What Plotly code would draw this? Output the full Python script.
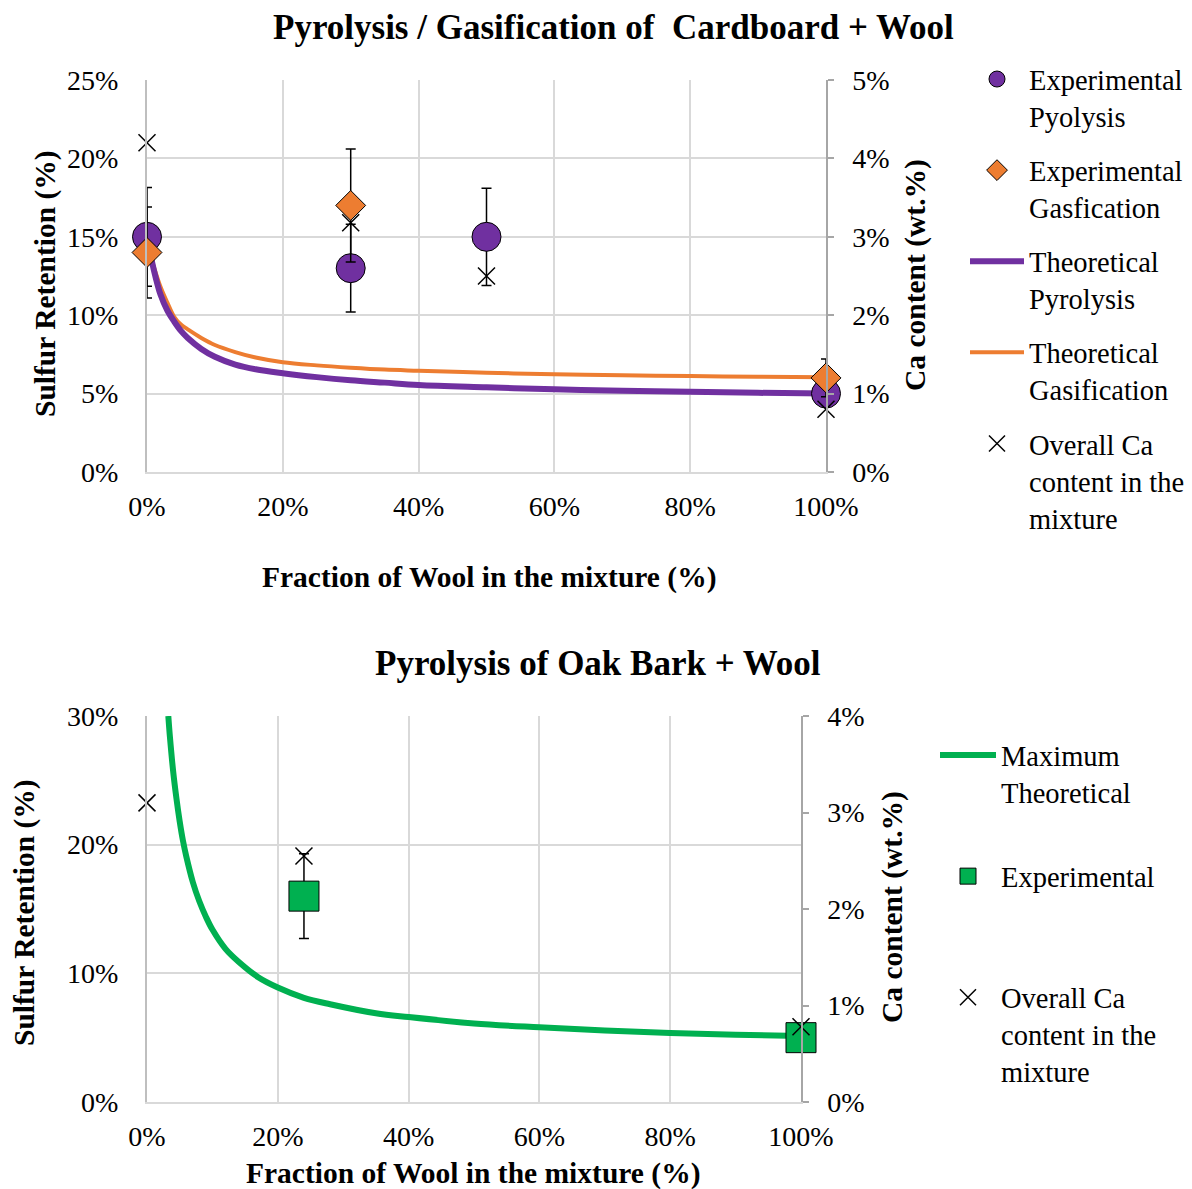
import plotly.graph_objects as go
from plotly.subplots import make_subplots

# The page body adds an 8px margin; the figure is sized/offset to compensate.
OX, OY = 8, 8
W, H = 1192 - OX, 1189 - OY

# ---------------- Data: Cardboard + Wool ----------------
cw_exp_x = [0, 30, 50, 100]
cw_exp_pyro = [15.0, 13.0, 15.0, 5.0]
cw_exp_pyro_err = [3.15, 2.8, 3.1, 0.0]
cw_exp_gas_x = [0, 30, 100]
cw_exp_gas = [14.0, 17.0, 6.0]
cw_exp_gas_err = [2.9, 3.6, 1.2]

cw_theo_x = [0, 1, 2, 3, 4, 5, 6, 8, 10, 13, 16, 20, 25, 30, 35, 40, 50, 60, 70, 80, 90, 100]
cw_theo_pyro = [15.0, 12.9, 11.3, 10.3, 9.6, 9.0, 8.55, 7.85, 7.35, 6.85, 6.55, 6.3, 6.05,
                5.85, 5.7, 5.55, 5.4, 5.27, 5.18, 5.12, 5.05, 5.0]
cw_theo_gas = [14.5, 13.1, 11.8, 10.8, 9.9, 9.4, 9.1, 8.55, 8.1, 7.65, 7.3, 7.0, 6.8,
               6.65, 6.53, 6.46, 6.33, 6.23, 6.17, 6.12, 6.07, 6.04]

cw_ca_x = [0, 30, 50, 100]
cw_ca = [4.2, 3.18, 2.5, 0.8]

# ---------------- Data: Oak Bark + Wool ----------------
ob_theo_x = [3.26, 3.5, 4, 4.5, 5, 5.5, 6, 7, 8, 9, 10, 12, 14, 17, 20, 24, 28, 35, 40,
             50, 60, 70, 80, 90, 100]
ob_theo = [30.0, 28.4, 25.7, 23.6, 21.8, 20.3, 19.1, 17.1, 15.6, 14.4, 13.4, 11.9, 10.9,
           9.7, 8.9, 8.1, 7.6, 6.9, 6.6, 6.1, 5.8, 5.55, 5.37, 5.23, 5.12]
ob_exp_x = [24, 100]
ob_exp = [16.0, 5.0]
ob_exp_err = [3.3, 0.0]
ob_ca_x = [0, 24, 100]
ob_ca = [3.1, 2.55, 0.78]

# tick values / labels
x_ticks = [0, 20, 40, 60, 80, 100]
x_labels = ["0%", "20%", "40%", "60%", "80%", "100%"]
cw_left_ticks = [0, 5, 10, 15, 20, 25]
cw_left_labels = ["0%", "5%", "10%", "15%", "20%", "25%"]
cw_right_ticks = [0, 1, 2, 3, 4, 5]
cw_right_labels = ["0%", "1%", "2%", "3%", "4%", "5%"]
ob_left_ticks = [0, 10, 20, 30]
ob_left_labels = ["0%", "10%", "20%", "30%"]
ob_right_ticks = [0, 1, 2, 3, 4]
ob_right_labels = ["0%", "1%", "2%", "3%", "4%"]

PURPLE = "#7030A0"
ORANGE = "#ED7D31"
GREEN = "#00B050"
FONT = "Liberation Serif, Times New Roman, serif"

fig = make_subplots(rows=2, cols=1, specs=[[{"secondary_y": True}], [{"secondary_y": True}]])

# ----- top chart -----
fig.add_trace(go.Scatter(
    x=cw_theo_x, y=cw_theo_gas, mode="lines", line=dict(color=ORANGE, width=4, shape="spline"),
    name="Theoretical<br>Gasification", legend="legend", legendrank=4, legendgroup="g4"),
    row=1, col=1, secondary_y=False)
fig.add_trace(go.Scatter(
    x=cw_theo_x, y=cw_theo_pyro, mode="lines", line=dict(color=PURPLE, width=6, shape="spline"),
    name="Theoretical<br>Pyrolysis", legend="legend", legendrank=3, legendgroup="g3"),
    row=1, col=1, secondary_y=False)
fig.add_trace(go.Scatter(
    x=cw_exp_x, y=cw_exp_pyro, mode="markers", cliponaxis=False,
    marker=dict(symbol="circle", size=29, color=PURPLE, line=dict(color="black", width=1)),
    error_y=dict(type="data", array=cw_exp_pyro_err, visible=True, color="black", thickness=1.5, width=5),
    name="Experimental<br>Pyolysis", legend="legend", legendrank=1, legendgroup="g1"),
    row=1, col=1, secondary_y=False)
fig.add_trace(go.Scatter(
    x=cw_exp_gas_x, y=cw_exp_gas, mode="markers", cliponaxis=False,
    marker=dict(symbol="diamond", size=23, color=ORANGE, line=dict(color="black", width=1)),
    error_y=dict(type="data", array=cw_exp_gas_err, visible=True, color="black", thickness=1.5, width=5),
    name="Experimental<br>Gasfication", legend="legend", legendrank=2, legendgroup="g2"),
    row=1, col=1, secondary_y=False)
fig.add_trace(go.Scatter(
    x=cw_ca_x, y=cw_ca, mode="markers", cliponaxis=False,
    marker=dict(symbol="x-thin-open", size=17, color="black", line=dict(color="black", width=1.5)),
    name="Overall Ca<br>content in the<br>mixture", legend="legend", legendrank=5, legendgroup="g5"),
    row=1, col=1, secondary_y=True)

# ----- bottom chart -----
fig.add_trace(go.Scatter(
    x=ob_theo_x, y=ob_theo, mode="lines", line=dict(color=GREEN, width=6, shape="spline"),
    name="Maximum<br>Theoretical", legend="legend2", legendrank=1, legendgroup="h1"),
    row=2, col=1, secondary_y=False)
fig.add_trace(go.Scatter(
    x=ob_exp_x, y=ob_exp, mode="markers", cliponaxis=False,
    marker=dict(symbol="square", size=30, color=GREEN, line=dict(color="black", width=1)),
    error_y=dict(type="data", array=ob_exp_err, visible=True, color="black", thickness=1.5, width=5),
    name="Experimental<br>&nbsp;", legend="legend2", legendrank=2, legendgroup="h2"),
    row=2, col=1, secondary_y=False)
fig.add_trace(go.Scatter(
    x=ob_ca_x, y=ob_ca, mode="markers", cliponaxis=False,
    marker=dict(symbol="x-thin-open", size=17, color="black", line=dict(color="black", width=1.5)),
    name="Overall Ca<br>content in the<br>mixture", legend="legend2", legendrank=3, legendgroup="h3"),
    row=2, col=1, secondary_y=True)

# ----- pixel helpers (reference screen pixels -> paper fractions) -----
def px_x(p):
    return (p - OX) / W

def px_y(p):
    return 1 - (p - OY) / H

tickfont = dict(family=FONT, size=28, color="black")
GRID = "#d9d9d9"
AXC = "#bfbfbf"

fig.update_xaxes(range=[0, 100], tickmode="array", tickvals=x_ticks, ticktext=x_labels,
                 showgrid=True, gridcolor=GRID, gridwidth=2, showline=True, linecolor=GRID,
                 linewidth=2, zeroline=False, tickfont=tickfont, ticks="", ticklabelstandoff=8,
                 automargin=False)
fig.update_xaxes(domain=[px_x(147), px_x(826)], row=1, col=1)
fig.update_xaxes(domain=[px_x(147), px_x(801)], row=2, col=1)

fig.update_yaxes(showgrid=True, gridcolor=GRID, gridwidth=2, showline=True, linecolor=AXC,
                 linewidth=2, zeroline=False, tickfont=tickfont, ticks="", ticklabelstandoff=21,
                 tickmode="array", automargin=False, secondary_y=False)
fig.update_yaxes(showgrid=False, showline=True, linecolor="#a6a6a6", linewidth=1.5, zeroline=False,
                 tickfont=tickfont, ticks="outside", ticklen=6, tickcolor="#a6a6a6", tickwidth=1.5,
                 ticklabelstandoff=13, tickmode="array", automargin=False, secondary_y=True)

fig.update_yaxes(range=[0, 25], tickvals=cw_left_ticks, ticktext=cw_left_labels,
                 domain=[px_y(472), px_y(80)], row=1, col=1, secondary_y=False)
fig.update_yaxes(range=[0, 5], tickvals=cw_right_ticks, ticktext=cw_right_labels,
                 row=1, col=1, secondary_y=True)
fig.update_yaxes(range=[0, 30], tickvals=ob_left_ticks, ticktext=ob_left_labels,
                 domain=[px_y(1102), px_y(716)], row=2, col=1, secondary_y=False)
fig.update_yaxes(range=[0, 4], tickvals=ob_right_ticks, ticktext=ob_right_labels,
                 row=2, col=1, secondary_y=True)

legend_font = dict(family=FONT, size=28.5, color="black")
fig.update_layout(
    width=W, height=H,
    margin=dict(l=0, r=0, t=0, b=0, autoexpand=False),
    paper_bgcolor="white", plot_bgcolor="white",
    font=dict(family=FONT, color="black", size=28),
    legend=dict(x=px_x(965), y=px_y(54), xanchor="left", yanchor="top", font=legend_font,
                valign="top", tracegroupgap=14, traceorder="grouped", bgcolor="rgba(0,0,0,0)",
                itemwidth=54),
    legend2=dict(x=px_x(935), y=px_y(730), xanchor="left", yanchor="top", font=legend_font,
                 valign="top", tracegroupgap=44, traceorder="grouped", bgcolor="rgba(0,0,0,0)",
                 itemwidth=56),
)

title_font = dict(family=FONT, size=35, color="black")
label_font = dict(family=FONT, size=29.5, color="black")
annos = [
    dict(text="<b>Pyrolysis / Gasification of \u00a0Cardboard + Wool</b>", x=px_x(613), y=px_y(28),
         font=title_font),
    dict(text="<b>Pyrolysis of Oak Bark + Wool</b>", x=px_x(598), y=px_y(663), font=title_font),
    dict(text="<b>Fraction of Wool in the mixture (%)</b>", x=px_x(489), y=px_y(577), font=label_font),
    dict(text="<b>Fraction of Wool in the mixture (%)</b>", x=px_x(473), y=px_y(1173), font=label_font),
    dict(text="<b>Sulfur Retention (%)</b>", x=px_x(45), y=px_y(284), font=label_font, textangle=-90),
    dict(text="<b>Ca content (wt.%)</b>", x=px_x(916), y=px_y(275), font=label_font, textangle=-90),
    dict(text="<b>Sulfur Retention (%)</b>", x=px_x(24), y=px_y(913), font=label_font, textangle=-90),
    dict(text="<b>Ca content (wt.%)</b>", x=px_x(892), y=px_y(907), font=label_font, textangle=-90),
]
for a in annos:
    a.update(xref="paper", yref="paper", showarrow=False, xanchor="center", yanchor="middle")
fig.update_layout(annotations=annos)

fig.write_html("out.html")
